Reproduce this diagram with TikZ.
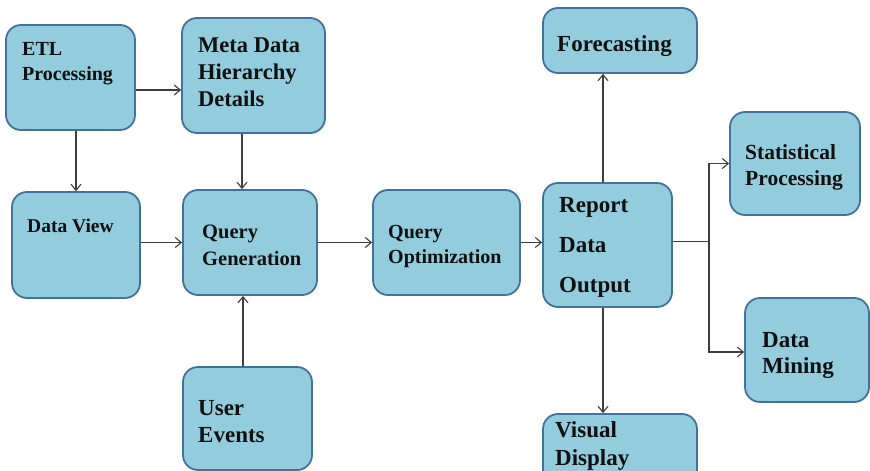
\documentclass[tikz,border=0pt]{standalone}
\usepackage{fontspec}
\setmainfont{Liberation Serif}
\usetikzlibrary{arrows.meta}
\definecolor{boxfill}{HTML}{93CDDD}
\definecolor{boxline}{HTML}{41719C}
\definecolor{arrline}{HTML}{3E3E3E}
\definecolor{txtcol}{HTML}{101010}
\tikzset{
  box/.style={draw=boxline, fill=boxfill, line width=1.8pt, rounded corners=15pt, inner sep=0pt},
  arr/.style={draw=arrline, line width=1.2pt, -{Straight Barb[length=6pt,width=10pt,line width=1.1pt]}},
  txt/.style={anchor=base west, inner sep=0pt, text=txtcol, font=\bfseries\fontsize{23}{27}\selectfont},
  txts/.style={txt, font=\bfseries\fontsize{20.5}{24}\selectfont},
}
\begin{document}
\begin{tikzpicture}[x=1pt,y=-1pt]
\useasboundingbox (0,0) rectangle (870,471);
\clip (0,0) rectangle (870,471);
% boxes
\node[box, minimum width=129pt, minimum height=105pt] (etl) at (70.5,77.5) {};
\node[box, minimum width=143pt, minimum height=115pt] (meta) at (253.5,75.5) {};
\node[box, minimum width=128pt, minimum height=106pt] (dv) at (76,245) {};
\node[box, minimum width=134pt, minimum height=105pt] (qg) at (250,242.5) {};
\node[box, minimum width=129pt, minimum height=103pt] (ue) at (247.5,418.5) {};
\node[box, minimum width=147pt, minimum height=105pt] (qo) at (446.5,242.5) {};
\node[box, minimum width=129pt, minimum height=124pt] (rep) at (607.5,245) {};
\node[box, minimum width=154pt, minimum height=65pt] (fc) at (620,40.5) {};
\node[box, minimum width=130pt, minimum height=103pt] (st) at (795,163.5) {};
\node[box, minimum width=124pt, minimum height=104pt] (dm) at (807,350) {};
\node[box, minimum width=154pt, minimum height=80pt] (vd) at (620,454) {};
% texts
\node[txts, font=\bfseries\fontsize{20}{24}\selectfont] (etl1) at (22,55) {ETL};
\node[txts, font=\bfseries\fontsize{20}{24}\selectfont] (etl2) at (22,80) {Processing};
\node[txt, font=\bfseries\fontsize{22.5}{27}\selectfont] (meta1) at (198,52) {Meta Data};
\node[txt, font=\bfseries\fontsize{22.5}{27}\selectfont] (meta2) at (198,79) {Hierarchy};
\node[txt, font=\bfseries\fontsize{22.5}{27}\selectfont] (meta3) at (198,106) {Details};
\node[txts, font=\bfseries\fontsize{19.5}{23}\selectfont] (dv1) at (27,232) {Data View};
\node[txts] (qg1) at (202,238) {Query};
\node[txts] (qg2) at (202,265) {Generation};
\node[txts, font=\bfseries\fontsize{20}{24}\selectfont] (qo1) at (388,238) {Query};
\node[txts, font=\bfseries\fontsize{20}{24}\selectfont] (qo2) at (388,263) {Optimization};
\node[txt] (rep1) at (559,212) {Report};
\node[txt] (rep2) at (559,252) {Data};
\node[txt] (rep3) at (559,292) {Output};
\node[txt] (fc1) at (557,51) {Forecasting};
\node[txts, font=\bfseries\fontsize{21.5}{25}\selectfont] (st1) at (745,159) {Statistical};
\node[txts, font=\bfseries\fontsize{21.5}{25}\selectfont] (st2) at (745,185) {Processing};
\node[txt] (dm1) at (762,347) {Data};
\node[txt] (dm2) at (762,373) {Mining};
\node[txt] (vd1) at (555,437) {Visual};
\node[txt] (vd2) at (555,465) {Display};
\node[txt] (ue1) at (198,415) {User};
\node[txt] (ue2) at (198,442) {Events};
% connectors
\coordinate (c1) at ([yshift=-12.5pt]etl.east);
\draw[arr] (c1) -- (c1 -| meta.west);
\draw[arr] (dv.north |- etl.south) -- (dv.north);
\coordinate (c3) at ([xshift=-8pt]qg.north);
\draw[arr] (c3 |- meta.south) -- (c3);
\draw[arr] (qg.west -| dv.east) -- (qg.west);
\coordinate (c5) at ([xshift=-4.5pt]ue.north);
\draw[arr] (c5) -- (c5 |- qg.south);
\draw[arr] (qg.east) -- (qo.west);
\draw[arr] (qo.east) -- (qo.east -| rep.west);
\coordinate (c8) at ([xshift=-4.5pt]rep.north);
\draw[arr] (c8) -- (c8 |- fc.south);
\coordinate (c9) at ([xshift=-4.5pt]rep.south);
\draw[arr] (c9) -- (c9 |- vd.north);
\coordinate (c10) at ([yshift=3.5pt]rep.east);
\coordinate (junc) at ([xshift=36pt]c10);
\draw[arr] (c10) -- (junc) |- (st.west);
\draw[arr] (junc) |- ([yshift=-2pt]dm.west);
\end{tikzpicture}
\end{document}
